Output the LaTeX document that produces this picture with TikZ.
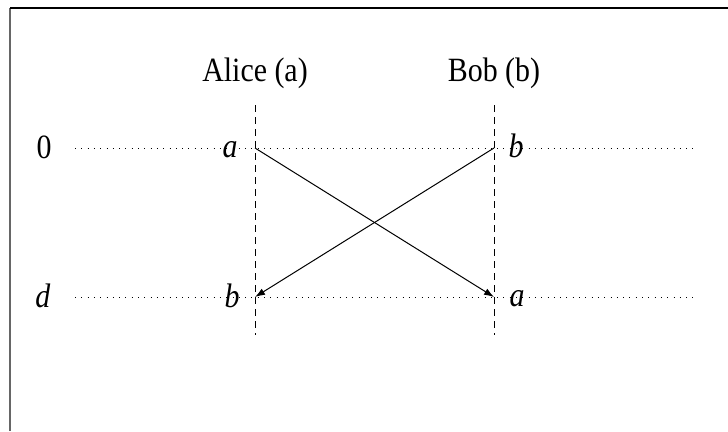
\documentclass[tikz,border=0pt]{standalone}
\usepackage{fontspec}
\setmainfont[FakeStretch=0.88]{Liberation Serif}
\usetikzlibrary{arrows.meta}

\begin{document}
\begin{tikzpicture}[x=1pt, y=-1pt, font=\fontsize{34}{40}\selectfont, >={Latex[length=10pt,width=7pt]},
timeline/.style={line width=1pt, dash pattern=on 1pt off 5.3pt},
lifeline/.style={line width=1pt, dash pattern=on 7pt off 5pt},
msg/.style={->, line width=1pt},
lbl/.style={inner sep=0pt, anchor=base}]
\useasboundingbox (0,0) rectangle (728,431);
\draw[line width=2pt, gray!80!black] (10,431) -- (10,8);
\draw[line width=1.5pt] (10,8) -- (728,8);
% parties
\node[lbl] (alice) at (255,81) {Alice (a)};
\node[lbl] (bob) at (494,81) {Bob (b)};
\coordinate (aliceTop) at (255,105); \coordinate (aliceBot) at (255,335);
\coordinate (bobTop) at (494,105); \coordinate (bobBot) at (494,335);
\draw[lifeline] (aliceTop) -- (aliceBot);
\draw[lifeline] (bobTop) -- (bobBot);
% time levels
\node[lbl] (t0) at (44,158) {0};
\node[lbl] (td) at (43,307) {\textit{d}};
\coordinate (l0) at (75,148); \coordinate (r0) at (695,148);
\coordinate (ld) at (75,297); \coordinate (rd) at (695,297);
\draw[timeline] (l0) -- (r0);
\draw[timeline] (ld) -- (rd);
% events
\coordinate (a0) at (255,148); \coordinate (b0) at (494,148);
\coordinate (ad) at (255,297); \coordinate (bd) at (494,297);
\node[lbl] (sendA) at (230,157) {\textit{a}};
\node[lbl] (sendB) at (516,157) {\textit{b}};
\node[lbl] (recvB) at (232,307) {\textit{b}};
\node[lbl] (recvA) at (517,306) {\textit{a}};
\draw[msg] (a0) -- (bd);
\draw[msg] (b0) -- (ad);
\end{tikzpicture}
\end{document}
